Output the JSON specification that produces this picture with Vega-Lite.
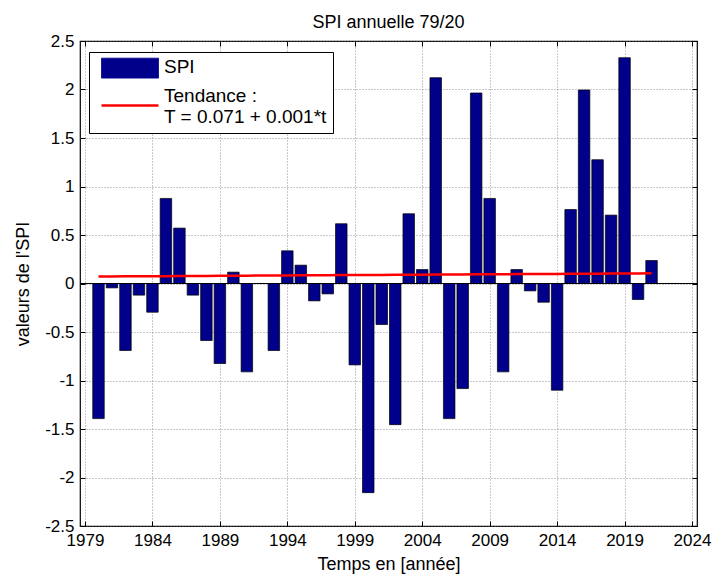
{
  "$schema": "https://vega.github.io/schema/vega-lite/v6.json",
  "width": 617,
  "height": 485,
  "autosize": "none",
  "padding": {"left": 80, "top": 41, "right": 20, "bottom": 51},
  "background": "white",
  "title": {
    "text": "SPI annuelle 79/20",
    "font": "Liberation Sans",
    "fontSize": 18,
    "fontWeight": "normal",
    "color": "black",
    "anchor": "middle",
    "frame": "group",
    "baseline": "alphabetic",
    "offset": -14
  },
  "config": {
    "view": {"stroke": "black", "strokeWidth": 1.2},
    "axis": {
      "labelFont": "Liberation Sans",
      "labelFontSize": 17,
      "labelColor": "black",
      "titleFont": "Liberation Sans",
      "titleFontSize": 18,
      "titleFontWeight": "normal",
      "titleColor": "black",
      "domain": false,
      "tickColor": "black",
      "tickSize": -5,
      "labelFlush": false,
      "labelOverlap": false,
      "gridColor": "#777777",
      "gridDash": [1, 2],
      "gridWidth": 0.8
    }
  },
  "datasets": {
    "spi": [
      {"annee": 1980, "valeur": -1.393, "serie": "SPI"},
      {"annee": 1981, "valeur": -0.045, "serie": "SPI"},
      {"annee": 1982, "valeur": -0.691, "serie": "SPI"},
      {"annee": 1983, "valeur": -0.12, "serie": "SPI"},
      {"annee": 1984, "valeur": -0.296, "serie": "SPI"},
      {"annee": 1985, "valeur": 0.877, "serie": "SPI"},
      {"annee": 1986, "valeur": 0.571, "serie": "SPI"},
      {"annee": 1987, "valeur": -0.12, "serie": "SPI"},
      {"annee": 1988, "valeur": -0.588, "serie": "SPI"},
      {"annee": 1989, "valeur": -0.825, "serie": "SPI"},
      {"annee": 1990, "valeur": 0.117, "serie": "SPI"},
      {"annee": 1991, "valeur": -0.911, "serie": "SPI"},
      {"annee": 1992, "valeur": 0.0, "serie": "SPI"},
      {"annee": 1993, "valeur": -0.691, "serie": "SPI"},
      {"annee": 1994, "valeur": 0.337, "serie": "SPI"},
      {"annee": 1995, "valeur": 0.189, "serie": "SPI"},
      {"annee": 1996, "valeur": -0.179, "serie": "SPI"},
      {"annee": 1997, "valeur": -0.107, "serie": "SPI"},
      {"annee": 1998, "valeur": 0.616, "serie": "SPI"},
      {"annee": 1999, "valeur": -0.839, "serie": "SPI"},
      {"annee": 2000, "valeur": -2.156, "serie": "SPI"},
      {"annee": 2001, "valeur": -0.423, "serie": "SPI"},
      {"annee": 2002, "valeur": -1.455, "serie": "SPI"},
      {"annee": 2003, "valeur": 0.719, "serie": "SPI"},
      {"annee": 2004, "valeur": 0.144, "serie": "SPI"},
      {"annee": 2005, "valeur": 2.122, "serie": "SPI"},
      {"annee": 2006, "valeur": -1.393, "serie": "SPI"},
      {"annee": 2007, "valeur": -1.083, "serie": "SPI"},
      {"annee": 2008, "valeur": 1.964, "serie": "SPI"},
      {"annee": 2009, "valeur": 0.877, "serie": "SPI"},
      {"annee": 2010, "valeur": -0.911, "serie": "SPI"},
      {"annee": 2011, "valeur": 0.144, "serie": "SPI"},
      {"annee": 2012, "valeur": -0.076, "serie": "SPI"},
      {"annee": 2013, "valeur": -0.193, "serie": "SPI"},
      {"annee": 2014, "valeur": -1.1, "serie": "SPI"},
      {"annee": 2015, "valeur": 0.763, "serie": "SPI"},
      {"annee": 2016, "valeur": 1.995, "serie": "SPI"},
      {"annee": 2017, "valeur": 1.276, "serie": "SPI"},
      {"annee": 2018, "valeur": 0.705, "serie": "SPI"},
      {"annee": 2019, "valeur": 2.328, "serie": "SPI"},
      {"annee": 2020, "valeur": -0.165, "serie": "SPI"},
      {"annee": 2021, "valeur": 0.237, "serie": "SPI"}
    ],
    "tendance": [
      {"annee": 1980, "valeur": 0.0720, "serie": "Tendance"},
      {"annee": 1981, "valeur": 0.0728, "serie": "Tendance"},
      {"annee": 1982, "valeur": 0.0736, "serie": "Tendance"},
      {"annee": 1983, "valeur": 0.0744, "serie": "Tendance"},
      {"annee": 1984, "valeur": 0.0752, "serie": "Tendance"},
      {"annee": 1985, "valeur": 0.0760, "serie": "Tendance"},
      {"annee": 1986, "valeur": 0.0768, "serie": "Tendance"},
      {"annee": 1987, "valeur": 0.0776, "serie": "Tendance"},
      {"annee": 1988, "valeur": 0.0784, "serie": "Tendance"},
      {"annee": 1989, "valeur": 0.0792, "serie": "Tendance"},
      {"annee": 1990, "valeur": 0.0800, "serie": "Tendance"},
      {"annee": 1991, "valeur": 0.0808, "serie": "Tendance"},
      {"annee": 1992, "valeur": 0.0816, "serie": "Tendance"},
      {"annee": 1993, "valeur": 0.0824, "serie": "Tendance"},
      {"annee": 1994, "valeur": 0.0832, "serie": "Tendance"},
      {"annee": 1995, "valeur": 0.0840, "serie": "Tendance"},
      {"annee": 1996, "valeur": 0.0848, "serie": "Tendance"},
      {"annee": 1997, "valeur": 0.0856, "serie": "Tendance"},
      {"annee": 1998, "valeur": 0.0864, "serie": "Tendance"},
      {"annee": 1999, "valeur": 0.0872, "serie": "Tendance"},
      {"annee": 2000, "valeur": 0.0880, "serie": "Tendance"},
      {"annee": 2001, "valeur": 0.0888, "serie": "Tendance"},
      {"annee": 2002, "valeur": 0.0896, "serie": "Tendance"},
      {"annee": 2003, "valeur": 0.0904, "serie": "Tendance"},
      {"annee": 2004, "valeur": 0.0912, "serie": "Tendance"},
      {"annee": 2005, "valeur": 0.0920, "serie": "Tendance"},
      {"annee": 2006, "valeur": 0.0928, "serie": "Tendance"},
      {"annee": 2007, "valeur": 0.0936, "serie": "Tendance"},
      {"annee": 2008, "valeur": 0.0944, "serie": "Tendance"},
      {"annee": 2009, "valeur": 0.0952, "serie": "Tendance"},
      {"annee": 2010, "valeur": 0.0960, "serie": "Tendance"},
      {"annee": 2011, "valeur": 0.0968, "serie": "Tendance"},
      {"annee": 2012, "valeur": 0.0976, "serie": "Tendance"},
      {"annee": 2013, "valeur": 0.0984, "serie": "Tendance"},
      {"annee": 2014, "valeur": 0.0992, "serie": "Tendance"},
      {"annee": 2015, "valeur": 0.1000, "serie": "Tendance"},
      {"annee": 2016, "valeur": 0.1008, "serie": "Tendance"},
      {"annee": 2017, "valeur": 0.1016, "serie": "Tendance"},
      {"annee": 2018, "valeur": 0.1024, "serie": "Tendance"},
      {"annee": 2019, "valeur": 0.1032, "serie": "Tendance"},
      {"annee": 2020, "valeur": 0.1040, "serie": "Tendance"},
      {"annee": 2021, "valeur": 0.1048, "serie": "Tendance"}
    ],
    "zero": [{"niveau": 0}]
  },
  "layer": [
    {
      "data": {"name": "spi"},
      "mark": {"type": "bar", "size": 11.5, "stroke": "black", "strokeWidth": 0.7},
      "encoding": {
        "x": {
          "field": "annee",
          "type": "quantitative",
          "scale": {"domain": [1979, 2024], "nice": false, "zero": false},
          "axis": {
            "orient": "bottom",
            "title": "Temps en [année]",
            "values": [1979, 1984, 1989, 1994, 1999, 2004, 2009, 2014, 2019, 2024],
            "labelExpr": "datum.value + ''",
            "labelPadding": 11,
            "titlePadding": 7,
            "grid": true
          }
        },
        "y": {
          "field": "valeur",
          "type": "quantitative",
          "scale": {"domain": [-2.5, 2.5], "nice": false},
          "axis": {
            "orient": "left",
            "title": "valeurs de l'SPI",
            "values": [-2.5, -2, -1.5, -1, -0.5, 0, 0.5, 1, 1.5, 2, 2.5],
            "labelExpr": "datum.value + ''",
            "labelPadding": 11,
            "titlePadding": 12,
            "grid": true
          }
        },
        "color": {
          "field": "serie",
          "type": "nominal",
          "scale": {"domain": ["SPI", "Tendance"], "range": ["#00008B", "#FF0000"]},
          "legend": {
            "title": null,
            "orient": "none",
            "legendX": 9,
            "legendY": 11,
            "direction": "vertical",
            "fillColor": "white",
            "strokeColor": "black",
            "cornerRadius": 0,
            "padding": 5.5,
            "rowPadding": 6,
            "labelFont": "Liberation Sans",
            "labelFontSize": 19,
            "labelColor": "black",
            "labelOffset": 24.5,
            "labelLimit": 400,
            "labelExpr": "datum.value === 'Tendance' ? ['Tendance :', 'T = 0.071 + 0.001*t'] : datum.value",
            "symbolType": {"expr": "datum.value === 'SPI' ? 'M-1,-0.31H1V0.39H-1Z' : 'M-1,0.33H1'"},
            "symbolSize": 3249,
            "symbolOffset": 26,
            "symbolStrokeColor": {"expr": "datum.value === 'SPI' ? 'black' : '#FF0000'"},
            "symbolStrokeWidth": {"expr": "datum.value === 'SPI' ? 0.8 : 2.5"},
            "symbolOpacity": 1
          }
        }
      }
    },
    {
      "data": {"name": "zero"},
      "mark": {"type": "rule", "color": "black", "strokeWidth": 1},
      "encoding": {
        "y": {"field": "niveau", "type": "quantitative", "axis": null}
      }
    },
    {
      "data": {"name": "tendance"},
      "mark": {"type": "line", "strokeWidth": 2.5},
      "encoding": {
        "x": {
          "field": "annee",
          "type": "quantitative",
          "axis": {
            "orient": "top",
            "title": null,
            "labels": false,
            "grid": false,
            "values": [1979, 1984, 1989, 1994, 1999, 2004, 2009, 2014, 2019, 2024]
          }
        },
        "y": {
          "field": "valeur",
          "type": "quantitative",
          "axis": {
            "orient": "right",
            "title": null,
            "labels": false,
            "grid": false,
            "values": [-2.5, -2, -1.5, -1, -0.5, 0, 0.5, 1, 1.5, 2, 2.5]
          }
        },
        "color": {"field": "serie", "type": "nominal", "legend": null}
      }
    }
  ],
  "resolve": {"axis": {"x": "independent", "y": "independent"}}
}
